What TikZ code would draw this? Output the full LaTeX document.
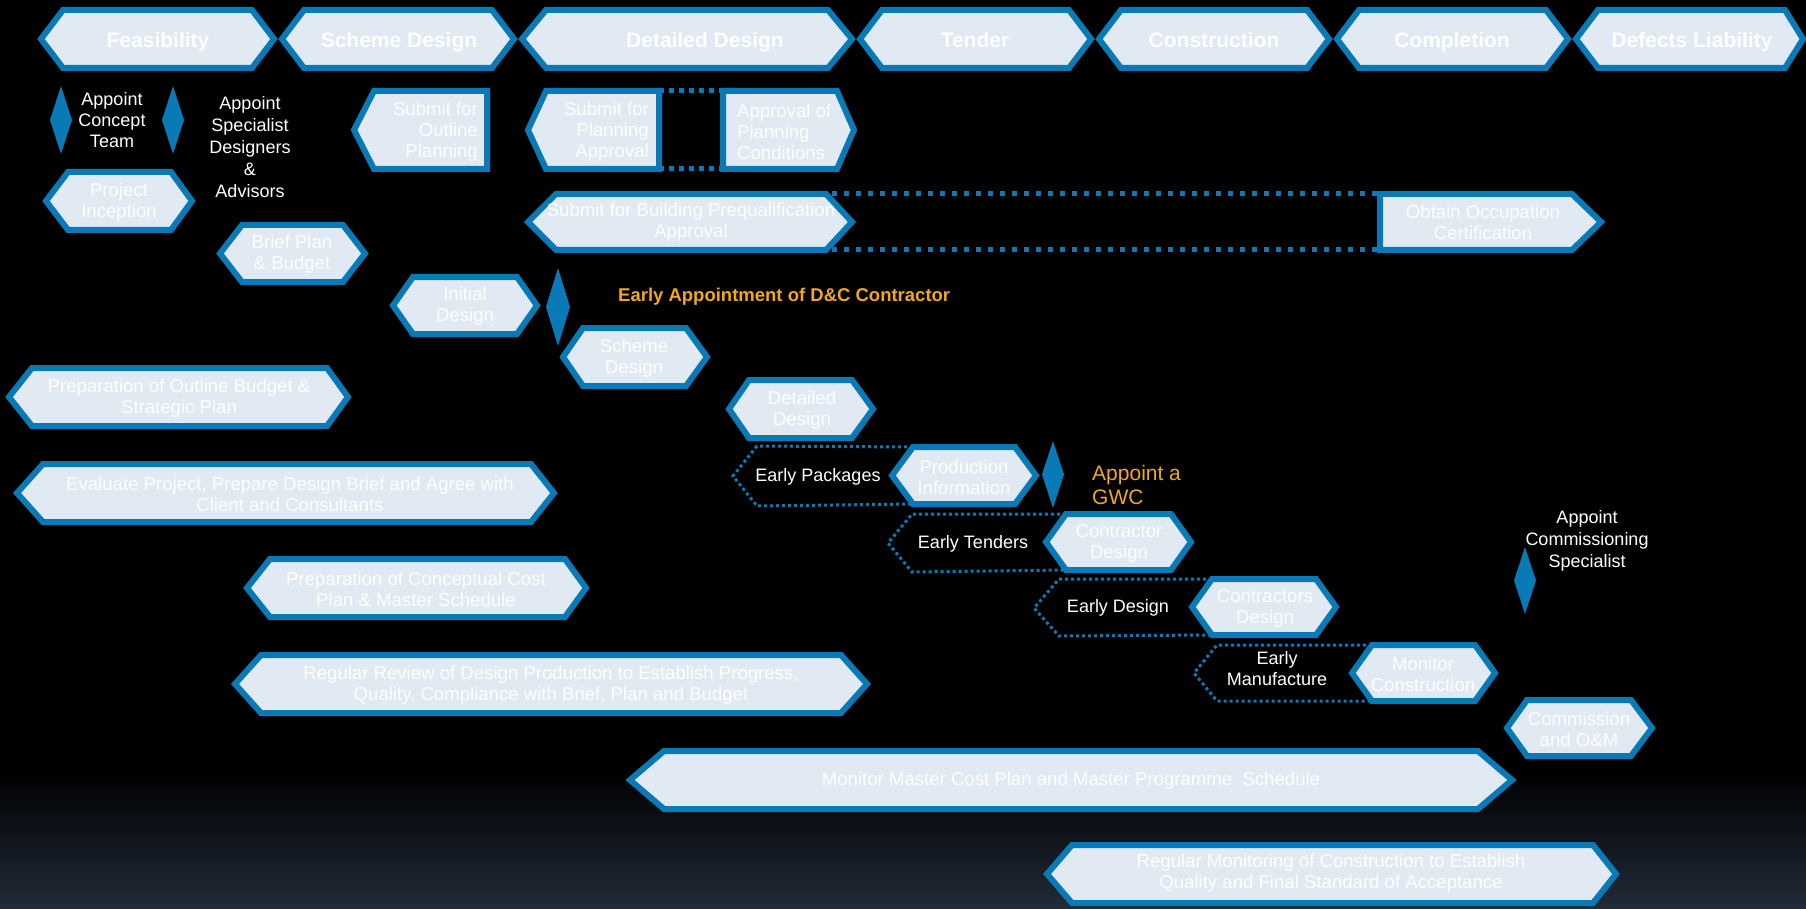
\documentclass[tikz,border=0pt]{standalone}
\usepackage{fontspec}
\setmainfont{Liberation Sans}
\definecolor{bd}{HTML}{0A7AB6}
\definecolor{bf}{HTML}{E1E9F3}
\definecolor{org}{HTML}{F0A81C}
\definecolor{bgbot}{HTML}{222B39}
\tikzset{
  boxline/.style={draw=bd, fill=bf, line width=6pt, line join=miter},
  bt/.style={text=white, font=\fontsize{18.6}{21}\selectfont, align=center, inner sep=0pt, yshift=-1.5pt},
  ht/.style={text=white, font=\fontsize{21}{25}\selectfont\bfseries, inner sep=0pt, anchor=base},
  wt/.style={text=white, font=\fontsize{18}{21}\selectfont, align=center, inner sep=0pt},
  ot/.style={text=org, inner sep=0pt},
  diafill/.style={fill=bd},
  longdot/.style={draw=bd, line width=5pt, dash pattern=on 5pt off 7pt},
  plandot/.style={draw=bd, line width=5pt, dash pattern=on 5pt off 5pt},
  earlydot/.style={draw=bd, line width=3pt, dash pattern=on 3pt off 3pt},
}
% #1 name, #2 L, #3 R, #4 T, #5 B, #6 left inset, #7 right inset (outer bounds)
\newcommand\hx[7]{%
  \coordinate (#1-w) at ({#2+3},{(#4+#5)/2});
  \coordinate (#1-nw) at ({#2+#6+3},{#4+3});
  \coordinate (#1-ne) at ({#3-#7-3},{#4+3});
  \coordinate (#1-e) at ({#3-3},{(#4+#5)/2});
  \coordinate (#1-se) at ({#3-#7-3},{#5-3});
  \coordinate (#1-sw) at ({#2+#6+3},{#5-3});
  \draw[boxline] (#1-w) -- (#1-nw) -- (#1-ne) -- (#1-e) -- (#1-se) -- (#1-sw) -- cycle;
}
% #1 x, #2 top, #3 bottom, #4 half width
\newcommand\dia[4]{%
  \fill[diafill] (#1,#2) -- ({#1+#4},{(#2+#3)/2}) -- (#1,#3) -- ({#1-#4},{(#2+#3)/2}) -- cycle;
}
\begin{document}
\begin{tikzpicture}[x=1pt,y=-1pt]
\useasboundingbox (0,0) rectangle (1806,909);
\fill[black] (0,0) rectangle (1806,909);
\shade[top color=black, bottom color=bgbot] (0,770) rectangle (1806,909);

% ---------- phase headers ----------
\hx{feasS}{38}{277}{7}{71}{22}{22}
\node[ht] (feas) at (158,48) {Feasibility};
\hx{schdS}{279}{517}{7}{71}{22}{22}
\node[ht] (schd) at (399,48) {Scheme Design};
\hx{detdS}{519}{855}{7}{71}{24}{24}
\node[ht] (detd) at (705,48) {Detailed Design};
\hx{tendS}{857}{1094}{7}{71}{22}{22}
\node[ht] (tend) at (975,48) {Tender};
\hx{consS}{1096}{1332}{7}{71}{22}{22}
\node[ht] (cons) at (1214,48) {Construction};
\hx{compS}{1334}{1571}{7}{71}{22}{22}
\node[ht] (comp) at (1452,48) {Completion};
\hx{deflS}{1573}{1806}{7}{71}{22}{18}
\node[ht] (defl) at (1692,48) {Defects Liability};

% ---------- feasibility column ----------
\dia{61}{86}{154}{11}
\node[wt] (act) at (112,120) {Appoint\\Concept\\Team};
\dia{173}{86}{154}{11}
\node[wt, font=\fontsize{18}{22}\selectfont] (asd) at (250,147) {Appoint\\Specialist\\Designers\\\&\\Advisors};

\hx{pincS}{43}{195}{169}{233}{22}{21}
\node[bt] (pinc) at (119,201) {Project\\Inception};
\hx{bpbS}{217}{368}{222}{285}{22}{22}
\node[bt] (bpb) at (292,253) {Brief Plan\\\& Budget};

% ---------- planning submissions ----------
\hx{sopS}{351}{490}{88}{172}{20}{0}
\node[bt, align=right, anchor=east] (sop) at (478,130) {Submit for\\Outline\\Planning};
\hx{spaS}{525}{662}{88}{172}{18}{0}
\node[bt, align=right, anchor=east] (spa) at (649,130) {Submit for\\Planning\\Approval};
\hx{apcS}{720}{857}{88}{172}{0}{17}
\node[bt, align=left, anchor=west] (apc) at (737,130) {Approval of\\Planning\\Conditions};
\draw[plandot] (spaS-ne) -- (apcS-nw);
\draw[plandot] (spaS-se) -- (apcS-sw);

\hx{sbpaS}{525}{855}{191}{253}{28}{26}
\node[bt] (sbpa) at (691,221) {Submit for Building Prequalification\\Approval};
\hx{oocS}{1377}{1604}{191}{253}{0}{29}
\node[bt] (ooc) at (1483,221) {Obtain Occupation\\Certification};
\draw[longdot, shorten <=6pt] (sbpaS-ne) -- (oocS-nw);
\draw[longdot, shorten <=6pt] (sbpaS-se) -- (oocS-sw);

% ---------- design stages ----------
\hx{initS}{390}{540}{274}{337}{20}{20}
\node[bt] (init) at (465,305) {Initial\\Design};
\dia{558}{268}{346}{12}
\node[ot, font=\fontsize{18.5}{22}\selectfont\bfseries, anchor=west] (eadc) at (618,297) {Early Appointment of D\&C Contractor};
\hx{scdS}{560}{710}{325}{389}{20}{21}
\node[bt] (scd) at (634,357) {Scheme\\Design};
\hx{ddS}{726}{876}{377}{441}{20}{21}
\node[bt] (dd) at (802,409) {Detailed\\Design};

% ---------- cost / programme bars ----------
\hx{pobS}{6}{351}{365}{429}{23}{21}
\node[bt] (pob) at (179,397) {Preparation of Outline Budget \&\\Strategic Plan};
\hx{evS}{14}{557}{461}{525}{26}{23}
\node[bt] (ev) at (290,493) {Evaluate Project, Prepare Design Brief and Agree with\\Client and Consultants};
\hx{ccsS}{244}{589}{556}{620}{23}{21}
\node[bt] (ccs) at (416,588) {Preparation of Conceptual Cost\\Plan \& Master Schedule};
\hx{rrS}{232}{870}{652}{716}{26}{26}
\node[bt] (rr) at (551,684) {Regular Review of Design Production to Establish Progress,\\Quality, Compliance with Brief, Plan and Budget};

% ---------- early works cascade ----------
\hx{pinfS}{889}{1039}{444}{507}{21}{21}
\node[bt] (pinf) at (964,476) {Production\\Information};
\coordinate (epa) at (757,446);
\coordinate (epb) at (733,476);
\coordinate (epc) at (757,506);
\draw[earlydot] (pinfS-nw) -- (epa) -- (epb) -- (epc) -- (pinfS-sw);
\node[wt] (ep) at (818,477) {Early Packages};
\dia{1053}{441}{508}{11}
\node[ot, font=\fontsize{21}{24}\selectfont, align=left, anchor=west] (gwc) at (1092,485) {Appoint a\\GWC};

\hx{cdS}{1043}{1194}{511}{573}{20}{20}
\node[bt] (cd) at (1119,542) {Contractor\\Design};
\coordinate (eta) at (912,514);
\coordinate (etb) at (888,543);
\coordinate (etc) at (912,572);
\draw[earlydot] (cdS-nw) -- (eta) -- (etb) -- (etc) -- (cdS-sw);
\node[wt] (et) at (973,544) {Early Tenders};

\hx{csdS}{1189}{1339}{576}{638}{20}{20}
\node[bt] (csd) at (1265,607) {Contractors\\Design};
\coordinate (eda) at (1059,579);
\coordinate (edb) at (1034,608);
\coordinate (edc) at (1059,636);
\draw[earlydot] (csdS-nw) -- (eda) -- (edb) -- (edc) -- (csdS-sw);
\node[wt] (ed) at (1118,608) {Early Design};

\hx{mcS}{1349}{1498}{642}{704}{20}{20}
\node[bt] (mc) at (1423,673) {Monitor\\Construction};
\coordinate (ema) at (1217,645);
\coordinate (emb) at (1194,673);
\coordinate (emc) at (1217,701);
\draw[earlydot] (mcS-nw) -- (ema) -- (emb) -- (emc) -- (mcS-sw);
\node[wt] (em) at (1277,669) {Early\\Manufacture};

% ---------- commissioning ----------
\dia{1525}{547}{614}{11}
\node[wt, font=\fontsize{18}{22}\selectfont] (acs) at (1587,541) {Appoint\\Commissioning\\Specialist};
\hx{comS}{1504}{1655}{697}{759}{20}{21}
\node[bt] (com) at (1579,728) {Commission\\and O\&M};

% ---------- monitoring bars ----------
\hx{mmS}{627}{1515}{748}{812}{34}{34}
\node[bt] (mm) at (1071,779) {Monitor Master Cost Plan and Master Programme\ \ Schedule};
\hx{rmS}{1044}{1619}{842}{906}{25}{23}
\node[bt] (rm) at (1331,872) {Regular Monitoring of Construction to Establish\\Quality and Final Standard of Acceptance};
\end{tikzpicture}
\end{document}
